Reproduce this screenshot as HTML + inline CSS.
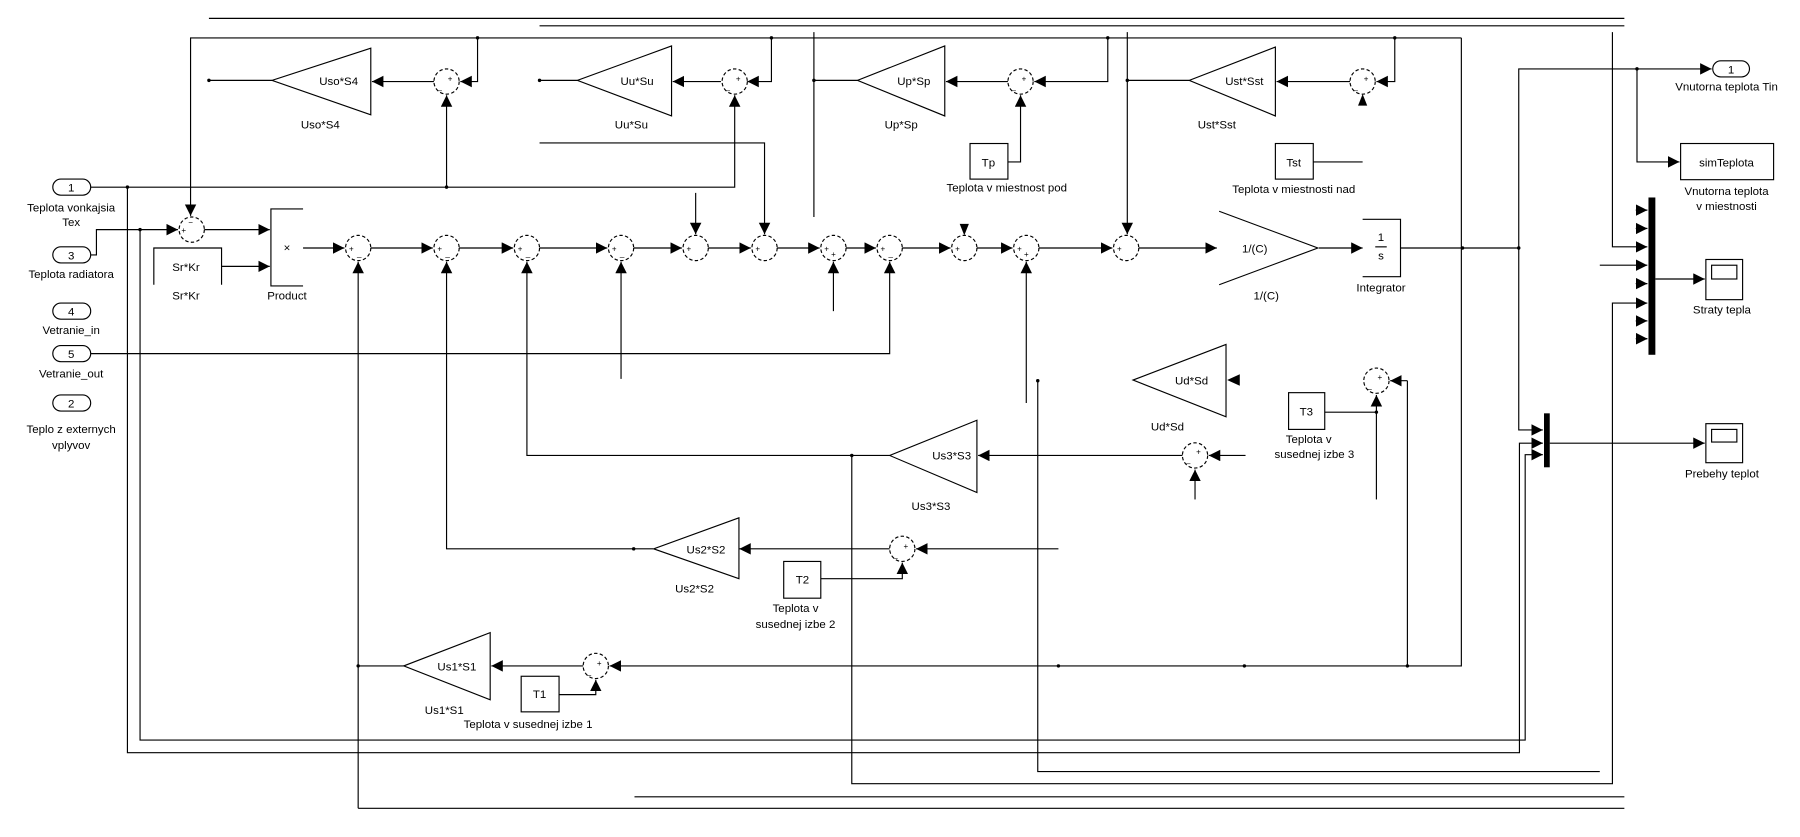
<!DOCTYPE html>
<html><head><meta charset="utf-8"><style>html,body{margin:0;padding:0;background:#fff}svg{display:block}</style></head><body>
<svg width="1800" height="837" viewBox="0 0 1568 729" preserveAspectRatio="none" xmlns="http://www.w3.org/2000/svg" font-family="Liberation Sans, sans-serif" font-size="10">
<defs><marker id="a" markerUnits="userSpaceOnUse" markerWidth="11" markerHeight="11" refX="10" refY="5" orient="auto"><path d="M0,0 L10,5 L0,10 z" fill="#000"/></marker></defs>
<rect width="1568" height="729" fill="#fff"/>
<g fill="none" stroke="#000" stroke-width="1">
<path d="M182 16 H1415 M470 22.5 H1415"/>
<path d="M1273 33 H166 V188" marker-end="url(#a)"/>
<path d="M1273 33 V580 H531" marker-end="url(#a)"/>
<path d="M416 33 V71 H401" marker-end="url(#a)"/>
<path d="M389 163 V83" marker-end="url(#a)"/>
<path d="M378 71 H324" marker-end="url(#a)"/>
<path d="M237 70 H182"/>
<path d="M672 33 V71 H651" marker-end="url(#a)"/>
<path d="M79 163 H640 V83" marker-end="url(#a)"/>
<path d="M628 71 H586" marker-end="url(#a)"/>
<path d="M503 70 H470"/>
<path d="M965 33 V71 H901" marker-end="url(#a)"/>
<path d="M878 141 H889 V83" marker-end="url(#a)"/>
<path d="M878 71 H824" marker-end="url(#a)"/>
<path d="M747 70 H709 M709 28 V189"/>
<path d="M1215 33 V71 H1199" marker-end="url(#a)"/>
<path d="M1176 71 H1112" marker-end="url(#a)"/>
<path d="M1036 70 H982"/>
<path d="M982 28 V204" marker-end="url(#a)"/>
<path d="M1144 141 H1187"/>
<path d="M264 216 H300" marker-end="url(#a)"/>
<path d="M323 216 H377" marker-end="url(#a)"/>
<path d="M400 216 H447" marker-end="url(#a)"/>
<path d="M470 216 H529" marker-end="url(#a)"/>
<path d="M552 216 H594" marker-end="url(#a)"/>
<path d="M617 216 H654" marker-end="url(#a)"/>
<path d="M677 216 H714" marker-end="url(#a)"/>
<path d="M737 216 H763" marker-end="url(#a)"/>
<path d="M786 216 H828" marker-end="url(#a)"/>
<path d="M851 216 H882" marker-end="url(#a)"/>
<path d="M905 216 H969" marker-end="url(#a)"/>
<path d="M992 216 H1060" marker-end="url(#a)"/>
<path d="M1149 216 H1187" marker-end="url(#a)"/>
<path d="M1220 216 H1323"/>
<path d="M312 704 V228" marker-end="url(#a)"/>
<path d="M352 580 H312"/>
<path d="M569 478 H389 V228" marker-end="url(#a)"/>
<path d="M775 396.7 H459 V228" marker-end="url(#a)"/>
<path d="M742 396.7 V682.6 H1404.6 V264 H1435" marker-end="url(#a)"/>
<path d="M541 330 V228" marker-end="url(#a)"/>
<path d="M606 168 V204" marker-end="url(#a)"/>
<path d="M470 124.5 H666 V204" marker-end="url(#a)"/>
<path d="M726 271 V228" marker-end="url(#a)"/>
<path d="M79 308 H775 V228" marker-end="url(#a)"/>
<path d="M894 351 V228" marker-end="url(#a)"/>
<path d="M1323 216 V374.5 H1344" marker-end="url(#a)"/>
<path d="M1323 216 V60 H1491" marker-end="url(#a)"/>
<path d="M1426 60 V141 H1463" marker-end="url(#a)"/>
<path d="M1404.6 28 V215 H1435" marker-end="url(#a)"/>
<path d="M1425 183 H1435 M1425 199 H1435 M1425 247 H1435 M1425 279.5 H1435 M1425 295 H1435" marker-end="url(#a)"/>
<path d="M1425 183 H1435" marker-end="url(#a)"/>
<path d="M1425 199 H1435" marker-end="url(#a)"/>
<path d="M1425 247 H1435" marker-end="url(#a)"/>
<path d="M1425 279.5 H1435" marker-end="url(#a)"/>
<path d="M1425 295 H1435" marker-end="url(#a)"/>
<path d="M1393.6 231 H1435" marker-end="url(#a)"/>
<path d="M1442 243 H1485" marker-end="url(#a)"/>
<path d="M111 163 V655.6 H1323.6 V386 H1344" marker-end="url(#a)"/>
<path d="M122 200 V644.6 H1328.6 V396 H1344" marker-end="url(#a)"/>
<path d="M1350 386 H1485" marker-end="url(#a)"/>
<path d="M904 331.6 V672 H1393.6"/>
<path d="M552.7 694 H1415 M312 704 H1415"/>
<path d="M79 222 H84 V200 H155" marker-end="url(#a)"/>
<path d="M178 200 H235" marker-end="url(#a)"/>
<path d="M193 232 H235" marker-end="url(#a)"/>
<path d="M1226 331.6 H1211" marker-end="url(#a)"/>
<path d="M1226 331.6 V580"/>
<path d="M1154 359 H1199"/>
<path d="M1199 435 V344" marker-end="url(#a)"/>
<path d="M1085 396.7 H1053" marker-end="url(#a)"/>
<path d="M1041 435 V409" marker-end="url(#a)"/>
<path d="M1030 396.7 H852" marker-end="url(#a)"/>
<path d="M922 478 H798" marker-end="url(#a)"/>
<path d="M775 478 H644" marker-end="url(#a)"/>
<path d="M715 504 H786 V490" marker-end="url(#a)"/>
<path d="M508 580 H428" marker-end="url(#a)"/>
<path d="M487 605 H519 V592" marker-end="url(#a)"/>
<!-- gains -->
<path d="M323 42 L237 70 L323 100 Z"/>
<path d="M585 40 L503 70 L585 101 Z"/>
<path d="M823 40 L747 70 L823 101 Z"/>
<path d="M1111 41 L1036 70 L1111 101 Z"/>
<path d="M1062 184 L1148 216 L1062 248"/>
<path d="M1068 300 L987 331 L1068 363 Z"/>
<path d="M851 366 L775 396.7 L851 429 Z"/>
<path d="M643.7 451 L569.4 478 L643.7 504 Z"/>
<path d="M427 551 L351.7 580 L427 609.5 Z"/>
<!-- blocks -->
<path d="M264 182 H236 V249 H264"/>
<path d="M1187 191 H1220 V241 H1187"/>
<path d="M134 248 V216 H193 V248"/>
<rect x="845" y="125" width="33" height="31"/>
<rect x="1111" y="125" width="33" height="31"/>
<rect x="1464" y="125" width="81" height="31.5"/>
<rect x="1122.5" y="342" width="31.5" height="32"/>
<rect x="682.7" y="489" width="32.3" height="32"/>
<rect x="454" y="589" width="33" height="31"/>
<rect x="1486" y="226" width="32" height="35"/>
<rect x="1491" y="231" width="22" height="12"/>
<rect x="1486" y="369" width="32" height="34"/>
<rect x="1491" y="374" width="22" height="11"/>
<rect x="46" y="156" width="33" height="14" rx="7"/>
<rect x="46" y="215" width="33" height="14" rx="7"/>
<rect x="46" y="264" width="33" height="14" rx="7"/>
<rect x="46" y="301" width="33" height="14" rx="7"/>
<rect x="46" y="344" width="33" height="14" rx="7"/>
<rect x="1492" y="53" width="32" height="14" rx="7"/>
</g>
<g fill="none" stroke="#000" stroke-dasharray="3,2">
<ellipse cx="167" cy="200" rx="11" ry="11"/>
<ellipse cx="389" cy="71" rx="11" ry="11"/>
<ellipse cx="640" cy="71" rx="11" ry="11"/>
<ellipse cx="889" cy="71" rx="11" ry="11"/>
<ellipse cx="1187" cy="71" rx="11" ry="11"/>
<ellipse cx="312" cy="216" rx="11" ry="11"/>
<ellipse cx="389" cy="216" rx="11" ry="11"/>
<ellipse cx="459" cy="216" rx="11" ry="11"/>
<ellipse cx="541" cy="216" rx="11" ry="11"/>
<ellipse cx="606" cy="216" rx="11" ry="11"/>
<ellipse cx="666" cy="216" rx="11" ry="11"/>
<ellipse cx="726" cy="216" rx="11" ry="11"/>
<ellipse cx="775" cy="216" rx="11" ry="11"/>
<ellipse cx="840" cy="216" rx="11" ry="11"/>
<ellipse cx="894" cy="216" rx="11" ry="11"/>
<ellipse cx="981" cy="216" rx="11" ry="11"/>
<ellipse cx="1199" cy="331.6" rx="11" ry="11"/>
<ellipse cx="1041" cy="396.7" rx="11" ry="11"/>
<ellipse cx="786" cy="478" rx="11" ry="11"/>
<ellipse cx="519" cy="580" rx="11" ry="11"/>
</g>
<g fill="#000">
<rect x="1436" y="172" width="6" height="137"/>
<rect x="1345" y="360" width="5" height="47"/>
<path d="M1183 92 L1191 92 L1187 82 Z"/>
<path d="M836 195 L844 195 L840 205 Z"/>
<path d="M1080 326 L1080 336 L1069 331 Z"/>
<circle cx="416" cy="33" r="1.5"/><circle cx="182" cy="70" r="1.5"/><circle cx="672" cy="33" r="1.5"/><circle cx="470" cy="70" r="1.5"/>
<circle cx="965" cy="33" r="1.5"/><circle cx="709" cy="70" r="1.5"/><circle cx="1215" cy="33" r="1.5"/><circle cx="982" cy="70" r="1.5"/>
<circle cx="111" cy="163" r="1.5"/><circle cx="389" cy="163" r="1.5"/><circle cx="122" cy="200" r="1.5"/>
<circle cx="1274" cy="216" r="1.5"/><circle cx="1323" cy="216" r="1.5"/><circle cx="1426" cy="60" r="1.5"/>
<circle cx="312" cy="580" r="1.5"/><circle cx="552" cy="478" r="1.5"/><circle cx="742" cy="396.7" r="1.5"/><circle cx="904" cy="331.6" r="1.5"/>
<circle cx="1199" cy="359" r="1.5"/><circle cx="922" cy="580" r="1.5"/><circle cx="1084" cy="580" r="1.5"/><circle cx="1226" cy="580" r="1.5"/>
</g>
<g font-size="7">
<text x="158" y="203">+</text><text x="164" y="196">−</text>
<text x="390" y="71">+</text><text x="381" y="78">_</text>
<text x="641" y="71">+</text><text x="632" y="78">_</text>
<text x="890" y="71">+</text><text x="881" y="78">_</text>
<text x="1188" y="71">+</text><text x="1179" y="78">_</text>
<text x="304" y="219">+</text><text x="311" y="223">_</text>
<text x="381" y="219">+</text><text x="388" y="223">_</text>
<text x="451" y="219">+</text><text x="458" y="223">_</text>
<text x="533" y="219">+</text><text x="540" y="223">_</text>
<text x="598" y="219">+</text><text x="658" y="219">+</text>
<text x="718" y="219">+</text><text x="724" y="224">+</text>
<text x="767" y="219">+</text><text x="774" y="223">_</text>
<text x="832" y="219">+</text>
<text x="886" y="219">+</text><text x="892" y="224">+</text>
<text x="973" y="219">+</text>
<text x="1200" y="331">+</text><text x="1191" y="338">_</text>
<text x="1042" y="396">+</text><text x="1033" y="403">_</text>
<text x="787" y="478">+</text><text x="778" y="485">_</text>
<text x="520" y="580">+</text><text x="511" y="587">_</text>
</g>
<g text-anchor="middle">
<text x="62" y="167">1</text><text x="62" y="226">3</text><text x="62" y="275">4</text><text x="62" y="312">5</text><text x="62" y="355">2</text><text x="1508" y="64">1</text>
<text x="62" y="184">Teplota vonkajsia</text><text x="62" y="197">Tex</text>
<text x="62" y="242">Teplota radiatora</text>
<text x="62" y="291">Vetranie_in</text>
<text x="62" y="329">Vetranie_out</text>
<text x="62" y="377">Teplo z externych</text><text x="62" y="391">vplyvov</text>
<text x="162" y="236">Sr*Kr</text><text x="162" y="261">Sr*Kr</text>
<text x="250" y="219">×</text><text x="250" y="261">Product</text>
<text x="295" y="74">Uso*S4</text><text x="279" y="112">Uso*S4</text>
<text x="555" y="74">Uu*Su</text><text x="550" y="112">Uu*Su</text>
<text x="796" y="74">Up*Sp</text><text x="785" y="112">Up*Sp</text>
<text x="1084" y="74">Ust*Sst</text><text x="1060" y="112">Ust*Sst</text>
<text x="861" y="145">Tp</text><text x="877" y="167">Teplota v miestnost pod</text>
<text x="1127" y="145">Tst</text><text x="1127" y="168">Teplota v miestnosti nad</text>
<text x="1093" y="220">1/(C)</text><text x="1103" y="261">1/(C)</text>
<text x="1203" y="210">1</text><text x="1203" y="226">s</text>
<path d="M1198 215 H1208" stroke="#000"/>
<text x="1203" y="254">Integrator</text>
<text x="1504" y="145">simTeplota</text>
<text x="1504" y="79">Vnutorna teplota Tin</text>
<text x="1504" y="170">Vnutorna teplota</text><text x="1504" y="183">v miestnosti</text>
<text x="1500" y="273">Straty tepla</text>
<text x="1500" y="416">Prebehy teplot</text>
<text x="1038" y="335">Ud*Sd</text><text x="1017" y="375">Ud*Sd</text>
<text x="1138" y="362">T3</text>
<text x="1140" y="386">Teplota v</text><text x="1145" y="399">susednej izbe 3</text>
<text x="829" y="400">Us3*S3</text><text x="811" y="444">Us3*S3</text>
<text x="615" y="482">Us2*S2</text><text x="605" y="516">Us2*S2</text>
<text x="699" y="508">T2</text>
<text x="693" y="533">Teplota v</text><text x="693" y="547">susednej izbe 2</text>
<text x="398" y="584">Us1*S1</text><text x="387" y="622">Us1*S1</text>
<text x="470" y="608">T1</text>
<text x="460" y="634">Teplota v susednej izbe 1</text>
</g>
</svg>
</body></html>
